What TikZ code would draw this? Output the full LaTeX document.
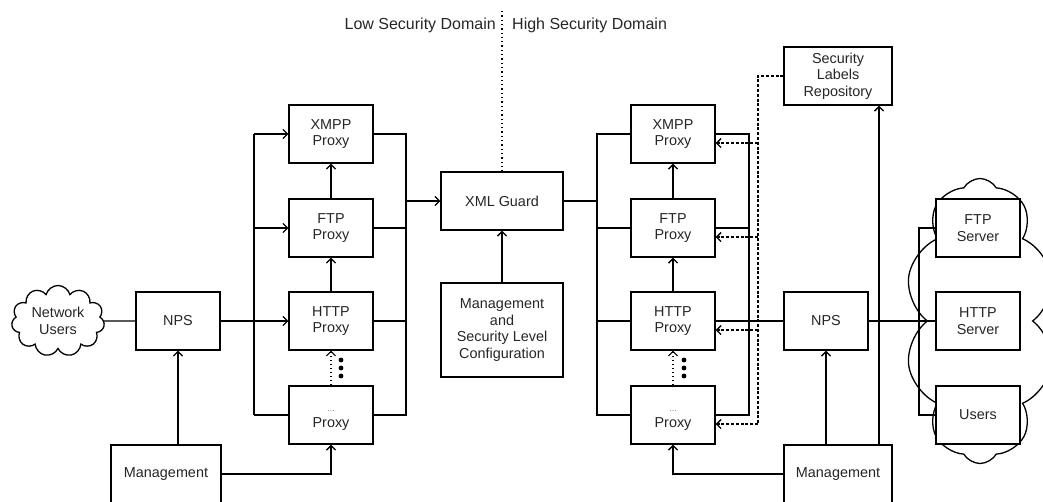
\documentclass[tikz,border=0pt]{standalone}
\usepackage{fontspec}
\setmainfont{Liberation Sans}
\usetikzlibrary{arrows.meta,shapes.symbols}
\begin{document}
\begin{tikzpicture}[x=1pt,y=-1pt,
  txt/.style={font=\fontsize{14.4}{16.5}\selectfont, text=black!85},
  domtxt/.style={font=\fontsize{16}{18}\selectfont, text=black!85},
  box/.style={txt, draw, line width=1.3pt, fill=white, minimum width=84pt, minimum height=58pt, align=center, inner sep=1pt},
  conn/.style={line width=1.3pt},
  arr/.style={conn, -{Straight Barb[length=4.5pt,width=9pt]}},
  dashconn/.style={arr, dash pattern=on 3pt off 1.8pt},
  dotconn/.style={arr, line width=1.1pt, dash pattern=on 1.1pt off 3pt},
  divline/.style={line width=1.3pt, dash pattern=on 1.3pt off 3pt},
  dotsym/.style={fill=black}
]
\useasboundingbox (0,0) rectangle (1043,501);
\clip (0,0) rectangle (1043,501);

% domain labels
\node[domtxt, anchor=east, inner sep=0pt] (lowdom) at (496,25) {Low Security Domain};
\node[domtxt, anchor=west, inner sep=0pt] (highdom) at (512,25) {High Security Domain};
\coordinate (divtop) at (502,11);

% server cloud
\node[cloud, draw, line width=1.3pt, cloud puffs=10, cloud puff arc=120, cloud ignores aspect, minimum width=150pt, minimum height=285pt] (srvcloud) at (980,321) {};

% left part
\node[cloud, draw, line width=1.3pt, cloud puffs=11, cloud ignores aspect, minimum width=93pt, minimum height=71pt, align=center, txt, inner sep=0pt] (netusers) at (58,321) {Network\\Users};
\node[box] (lnps) at (178,321) {NPS};
\node[box] (lxmpp) at (331,134) {XMPP\\Proxy};
\node[box] (lftp) at (331,228) {FTP\\Proxy};
\node[box] (lhttp) at (331,321) {HTTP\\Proxy};
\node[box] (ldots) at (331,415) {{\strut\fontsize{9}{10}\selectfont\color{gray}...}\\Proxy};
\node[box, minimum width=110pt] (lmgmt) at (166,474) {Management};

% center
\node[box, minimum width=122pt] (guard) at (502,201) {XML Guard};
\node[box, minimum width=122pt, minimum height=94pt] (config) at (502,330) {Management\\and\\Security Level\\Configuration};

% right part
\node[box] (rxmpp) at (673,134) {XMPP\\Proxy};
\node[box] (rftp) at (673,228) {FTP\\Proxy};
\node[box] (rhttp) at (673,321) {HTTP\\Proxy};
\node[box] (rdots) at (673,415) {{\strut\fontsize{9}{10}\selectfont\color{gray}...}\\Proxy};
\node[box, minimum width=108pt] (repo) at (838,76) {Security\\Labels\\Repository};
\node[box] (rnps) at (826,321) {NPS};
\node[box, minimum width=108pt] (rmgmt) at (838,474) {Management};
\node[box] (ftpsrv) at (978,228) {FTP\\Server};
\node[box] (httpsrv) at (978,321) {HTTP\\Server};
\node[box] (usrs) at (978,415) {Users};

% bus coordinates
\coordinate (lbl) at (254,0);
\coordinate (lbr) at (406,0);
\coordinate (rbl) at (597,0);
\coordinate (rbr) at (749,0);
\coordinate (rbd) at (758,0);
\coordinate (sb) at (919,0);
\coordinate (rup) at (879,0);

% divider
\draw[divline] (divtop) -- (guard.north);

% left connections
\draw[conn] (netusers.east) -- (lnps.west);
\draw[arr] (lnps.east) -- (lhttp.west);
\draw[conn] (lxmpp.west -| lbl) -- (ldots.west -| lbl);
\draw[arr] (lxmpp.west -| lbl) -- (lxmpp.west);
\draw[arr] (lftp.west -| lbl) -- (lftp.west);
\draw[conn] (ldots.west -| lbl) -- (ldots.west);
\draw[conn] (lxmpp.east) -- (lxmpp.east -| lbr) -- (ldots.east -| lbr) -- (ldots.east);
\draw[conn] (lftp.east) -- (lftp.east -| lbr);
\draw[conn] (lhttp.east) -- (lhttp.east -| lbr);
\draw[arr] (guard.west -| lbr) -- (guard.west);
\draw[arr] (lftp.north) -- (lxmpp.south);
\draw[arr] (lhttp.north) -- (lftp.south);
\draw[dotconn] (ldots.north) -- (lhttp.south);
\draw[arr] (lmgmt.north -| lnps.south) -- (lnps.south);
\draw[arr] (lmgmt.east) -- (lmgmt.east -| ldots.south) -- (ldots.south);
\fill[dotsym] (341,360) circle (2.4pt) (341,368) circle (2.4pt) (341,376) circle (2.4pt);

% center
\draw[arr] (config.north) -- (guard.south);

% right connections
\draw[conn] (guard.east) -- (guard.east -| rbl);
\draw[conn] (rxmpp.west) -- (rxmpp.west -| rbl) -- (rdots.west -| rbl) -- (rdots.west);
\draw[conn] (rftp.west) -- (rftp.west -| rbl);
\draw[conn] (rhttp.west) -- (rhttp.west -| rbl);
\draw[conn] (rxmpp.east) -- (rxmpp.east -| rbr) -- (rdots.east -| rbr) -- (rdots.east);
\draw[conn] (rftp.east) -- (rftp.east -| rbr);
\draw[conn] (rhttp.east) -- (rnps.west);
\draw[arr] (rftp.north) -- (rxmpp.south);
\draw[arr] (rhttp.north) -- (rftp.south);
\draw[dotconn] (rdots.north) -- (rhttp.south);
\fill[dotsym] (684,360) circle (2.4pt) (684,368) circle (2.4pt) (684,376) circle (2.4pt);

% dashed label bus
\draw[conn, dash pattern=on 3pt off 1.8pt] (repo.west) -- (repo.west -| rbd) -- ([yshift=-9pt]rdots.east -| rbd);
\draw[dashconn] ([yshift=-9pt]rxmpp.east -| rbd) -- ([yshift=-9pt]rxmpp.east);
\draw[dashconn] ([yshift=-9pt]rftp.east -| rbd) -- ([yshift=-9pt]rftp.east);
\draw[dashconn] ([yshift=-9pt]rhttp.east -| rbd) -- ([yshift=-9pt]rhttp.east);
\draw[dashconn] ([yshift=-9pt]rdots.east -| rbd) -- ([yshift=-9pt]rdots.east);

% management right
\draw[arr] (rmgmt.north -| rnps.south) -- (rnps.south);
\draw[arr] (rmgmt.north -| rup) -- (repo.south -| rup);
\draw[arr] (rmgmt.west) -- (rmgmt.west -| rdots.south) -- (rdots.south);

% servers
\draw[conn] (rnps.east) -- (httpsrv.west);
\draw[conn] (ftpsrv.west) -- (ftpsrv.west -| sb) -- (usrs.west -| sb) -- (usrs.west);
\end{tikzpicture}
\end{document}
